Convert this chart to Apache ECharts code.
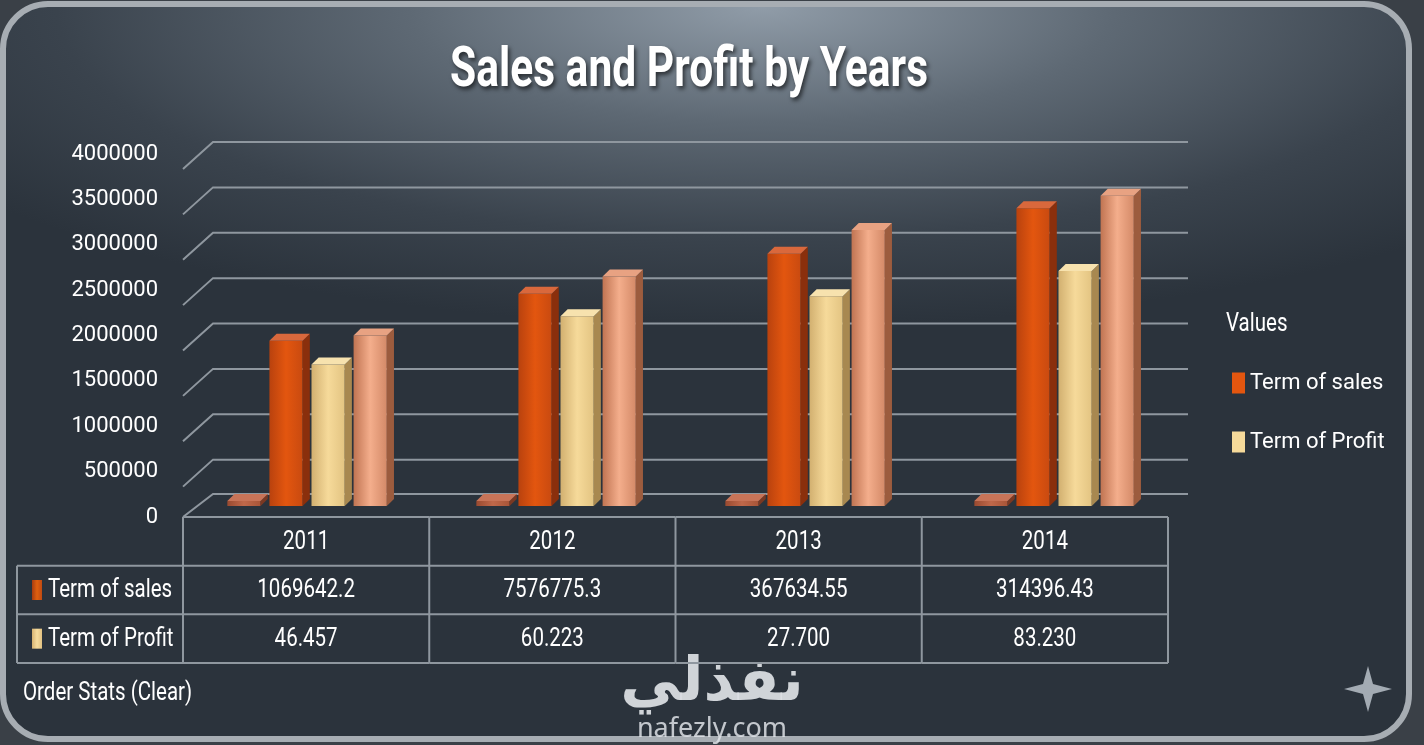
<!DOCTYPE html>
<html>
<head>
<meta charset="utf-8">
<script src="https://cdn.jsdelivr.net/npm/echarts@6/dist/echarts.min.js"></script>
<style>
  html, body { margin: 0; padding: 0; background: #3a4047; }
  #frame {
    position: absolute; left: 0; top: 1px; width: 1412px; height: 741px;
    box-sizing: border-box; border: 6px solid #a7adb3; border-radius: 48px;
    background: radial-gradient(ellipse 980px 320px at 54% 0%, #909ca8 0%, #5e6974 36%, #3a434d 72%, #2b333c 100%), #2b333c;
  }
  #main { position: absolute; left: 0; top: 0; width: 1424px; height: 745px; }
</style>
</head>
<body>
<div id="frame"></div>
<div id="main"></div>
<script>
// 数据
var years = ['2011', '2012', '2013', '2014'];
var yTicks = [0, 500000, 1000000, 1500000, 2000000, 2500000, 3000000, 3500000, 4000000];
var firstBars = [55000, 55000, 55000, 55000];
var salesBars = [1820000, 2340000, 2780000, 3280000];
var profitBars = [1560000, 2090000, 2310000, 2590000];
var lastBars = [1880000, 2530000, 3040000, 3420000];
var tableSales = ['1069642.2', '7576775.3', '367634.55', '314396.43'];
var tableProfit = ['46.457', '60.223', '27.700', '83.230'];

var FONT = 'Roboto, "Noto Sans", sans-serif';
var LINE = '#8f979f';
var SX = 0.82; // 文字横向压缩

function hGrad(c0, c1, c2) {
    return new echarts.graphic.LinearGradient(0, 0, 1, 0, [
        { offset: 0, color: c0 }, { offset: 0.5, color: c1 }, { offset: 1, color: c2 }
    ]);
}

var palettes = [
    { front: ['#9a4a30', '#c0684a', '#a85538'], side: '#7a3822', top: '#c87458' },
    { front: ['#b9420e', '#e3560f', '#c94a10'], side: '#8a2f0c', top: '#d9683c' },
    { front: ['#d2b070', '#f6da9a', '#e3c482'], side: '#a88850', top: '#f7e2ae' },
    { front: ['#c07452', '#f4ae8c', '#d48a68'], side: '#9c5c3e', top: '#e8a282' }
];

// 3D 柱子
function makeBar(slot, pal) {
    return function (params, api) {
        var top = api.coord([api.value(0), api.value(1)]);
        var base = api.coord([api.value(0), 0]);
        var band = api.size([1, 0])[0];
        var slotW = band * 0.169;
        var fw = slotW * 0.79, sw = slotW * 0.17, d = 7;
        var x0 = top[0] + (slot - 2) * slotW + 1;
        var yt = top[1], yb = base[1];
        return {
            type: 'group',
            children: [
                { type: 'rect', shape: { x: x0, y: yt, width: fw, height: yb - yt }, style: { fill: hGrad(pal.front[0], pal.front[1], pal.front[2]) } },
                { type: 'polygon', shape: { points: [[x0 + fw, yt], [x0 + fw + sw, yt - d], [x0 + fw + sw, yb - d], [x0 + fw, yb]] }, style: { fill: pal.side } },
                { type: 'polygon', shape: { points: [[x0, yt], [x0 + fw, yt], [x0 + fw + sw, yt - d], [x0 + sw, yt - d]] }, style: { fill: pal.top } }
            ]
        };
    };
}

// 背景墙网格线
function renderWall(params, api) {
    var cs = params.coordSys;
    var v = api.value(1);
    var y = api.coord([0, v])[1];
    var left = cs.x - 3, back = cs.x + 27, right = cs.x + cs.width + 6;
    var pts = v === 0 ? [[left, y + 11], [back, y - 12], [right, y - 12]] : [[left, y + 26], [back, y - 1], [right, y - 1]];
    return { type: 'polyline', shape: { points: pts }, style: { stroke: LINE, lineWidth: 2, fill: 'none' } };
}

function label(t, x, y, align) {
    return {
        type: 'text', x: x, y: y, scaleX: SX,
        style: { text: t, fill: '#ffffff', font: '25px ' + FONT, align: align || 'center', verticalAlign: 'middle' }
    };
}

// 数据表
function renderTable(params, api) {
    var i = api.value(0);
    var c = api.coord([i, 0]);
    var band = api.size([1, 0])[0];
    var xl = c[0] - band / 2, xr = c[0] + band / 2;
    var r0 = api.coord([i, 0])[1], r1 = api.coord([i, 1])[1], r2 = api.coord([i, 2])[1], r3 = api.coord([i, 3])[1];
    var ls = { stroke: LINE, lineWidth: 2 };
    var kids = [
        { type: 'line', shape: { x1: xl, y1: r0, x2: xl, y2: r3 }, style: ls },
        { type: 'line', shape: { x1: xl, y1: r0, x2: xr, y2: r0 }, style: ls },
        { type: 'line', shape: { x1: xl, y1: r1, x2: xr, y2: r1 }, style: ls },
        { type: 'line', shape: { x1: xl, y1: r2, x2: xr, y2: r2 }, style: ls },
        { type: 'line', shape: { x1: xl, y1: r3, x2: xr, y2: r3 }, style: ls },
        label(years[i], c[0], (r0 + r1) / 2 + 1),
        label(tableSales[i], c[0], (r1 + r2) / 2 + 1),
        label(tableProfit[i], c[0], (r2 + r3) / 2 + 1)
    ];
    if (i === years.length - 1) {
        kids.push({ type: 'line', shape: { x1: xr, y1: r0, x2: xr, y2: r3 }, style: ls });
    }
    if (i === 0) {
        var hx = xl - 166;
        kids.push(
            { type: 'line', shape: { x1: hx, y1: r1, x2: xl, y2: r1 }, style: ls },
            { type: 'line', shape: { x1: hx, y1: r2, x2: xl, y2: r2 }, style: ls },
            { type: 'line', shape: { x1: hx, y1: r3, x2: xl, y2: r3 }, style: ls },
            { type: 'line', shape: { x1: hx, y1: r1, x2: hx, y2: r3 }, style: ls },
            { type: 'rect', shape: { x: hx + 15, y: (r1 + r2) / 2 - 10, width: 10, height: 20 }, style: { fill: hGrad('#a83c10', '#e0600f', '#c04a12') } },
            { type: 'rect', shape: { x: hx + 15, y: (r2 + r3) / 2 - 10, width: 10, height: 20 }, style: { fill: hGrad('#d6b272', '#f6dc9e', '#e2c282') } },
            label('Term of sales', hx + 31, (r1 + r2) / 2 + 1, 'left'),
            label('Term of Profit', hx + 31, (r2 + r3) / 2 + 1, 'left')
        );
    }
    return { type: 'group', children: kids };
}

var myChart = echarts.init(document.getElementById('main'));

var barNames = ['Term of quantity', 'Term of sales', 'Term of Profit', 'Term of total'];
var barData = [firstBars, salesBars, profitBars, lastBars];

var series = [{
    type: 'custom',
    name: 'wall',
    xAxisIndex: 0, yAxisIndex: 0,
    silent: true, z: 1,
    renderItem: renderWall,
    data: yTicks.map(function (v) { return [0, v]; }),
    encode: { x: 0, y: 1 }
}];
barData.forEach(function (vals, s) {
    series.push({
        type: 'custom',
        name: barNames[s],
        xAxisIndex: 0, yAxisIndex: 0, z: 3,
        itemStyle: { color: palettes[s].front[1] },
        renderItem: makeBar(s, palettes[s]),
        data: vals.map(function (v, i) { return [i, v]; }),
        encode: { x: 0, y: 1 }
    });
});
series.push({
    type: 'custom',
    name: 'table',
    xAxisIndex: 1, yAxisIndex: 1,
    silent: true, z: 2,
    renderItem: renderTable,
    data: years.map(function (y, i) { return [i, 0]; }),
    encode: { x: 0, y: 1 }
});

var option = {
    backgroundColor: 'transparent',
    animation: false,
    tooltip: { trigger: 'item' },
    legend: {
        data: ['Term of sales', 'Term of Profit'],
        orient: 'vertical',
        left: 1232, top: 372, padding: 0,
        itemWidth: 13, itemHeight: 21, itemGap: 37,
        icon: 'rect',
        textStyle: { color: '#ffffff', fontSize: 22, fontFamily: FONT, padding: [0, 0, 0, 0] }
    },
    grid: [
        { left: 186, right: 242, top: 143, height: 363 },
        { left: 183, right: 256, top: 517, height: 146 }
    ],
    xAxis: [
        { type: 'category', gridIndex: 0, data: years, show: false },
        { type: 'category', gridIndex: 1, data: years, show: false }
    ],
    yAxis: [
        {
            type: 'value', gridIndex: 0, min: 0, max: 4000000, interval: 500000,
            axisLine: { show: false }, axisTick: { show: false }, splitLine: { show: false },
            axisLabel: {
                color: '#ffffff', fontSize: 22, fontFamily: FONT, margin: 28, verticalAlign: 'top',
                formatter: function (v) { return String(v); }
            }
        },
        { type: 'value', gridIndex: 1, min: 0, max: 3, inverse: true, show: false }
    ],
    graphic: [
        {
            type: 'text', x: 689, y: 72, scaleX: 0.76,
            style: {
                text: 'Sales and Profit by Years', fill: '#ffffff', font: 'bold 56px ' + FONT,
                align: 'center', verticalAlign: 'middle',
                textShadowColor: 'rgba(0,0,0,0.6)', textShadowBlur: 4, textShadowOffsetX: 2, textShadowOffsetY: 3
            }
        },
        { type: 'text', x: 1226, y: 325, scaleX: SX, style: { text: 'Values', fill: '#ffffff', font: '25px ' + FONT, verticalAlign: 'middle' } },
        { type: 'text', x: 23, y: 694, scaleX: SX, style: { text: 'Order Stats (Clear)', fill: '#ffffff', font: '25px ' + FONT, verticalAlign: 'middle' } },
        { type: 'text', x: 712, y: 684, style: { text: 'نفذلي', fill: 'rgba(222,226,230,0.92)', font: 'bold 60px "DejaVu Sans", sans-serif', align: 'center', verticalAlign: 'middle' } },
        { type: 'text', x: 712, y: 729, style: { text: 'nafezly.com', fill: 'rgba(222,226,230,0.85)', font: '27px "Noto Sans", sans-serif', align: 'center', verticalAlign: 'middle' } },
        {
            type: 'polygon', x: 1368, y: 689,
            shape: { points: [[0, -23], [5, -5], [24, 0], [5, 5], [0, 23], [-5, 5], [-24, 0], [-5, -5]] },
            style: { fill: '#a3abb3' }
        }
    ],
    series: series
};

myChart.setOption(option);
</script>
</body>
</html>
